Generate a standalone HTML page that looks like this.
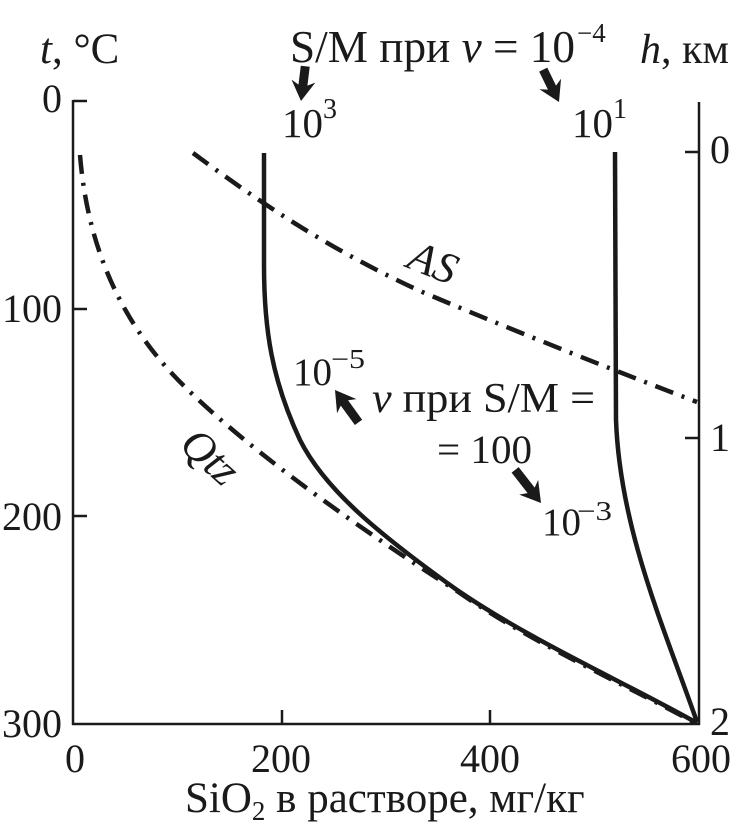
<!DOCTYPE html>
<html>
<head>
<meta charset="utf-8">
<style>
html,body{margin:0;padding:0;background:#fff;}
svg{display:block;}
text{font-family:"Liberation Serif","DejaVu Serif",serif;fill:#1a1a1a;}
</style>
</head>
<body>
<svg width="733" height="835" viewBox="0 0 733 835" xmlns="http://www.w3.org/2000/svg">
<rect width="733" height="835" fill="#fff"/>
<!-- axes -->
<g stroke="#1a1a1a" stroke-width="2.5" fill="none">
<line x1="73" y1="100" x2="73" y2="725"/>
<line x1="72" y1="724" x2="700" y2="724"/>
<line x1="699" y1="102" x2="699" y2="725"/>
<line x1="73" y1="101" x2="87" y2="101"/>
<line x1="73" y1="309" x2="87" y2="309"/>
<line x1="73" y1="516" x2="87" y2="516"/>
<line x1="282" y1="724" x2="282" y2="710"/>
<line x1="490" y1="724" x2="490" y2="710"/>
<line x1="685" y1="152" x2="699" y2="152"/>
<line x1="685" y1="438" x2="699" y2="438"/>
</g>
<!-- solid curves -->
<g stroke="#1a1a1a" stroke-width="4.5" fill="none" stroke-linejoin="round">
<path d="M264,153 L264,265 C264,330 272,380 300,440 C325,490 380,535 457,590 C530,640 620,680 697,723"/>
<path d="M615,152 L616,420 C620,530 665,630 697,722"/>
</g>
<!-- dash-dot curves -->
<g stroke="#1a1a1a" stroke-width="4.5" fill="none" stroke-dasharray="19 9 3 9">
<path d="M80,155 C86,230 110,300 160,360 C210,420 330,510 457,591 C530,642 620,682 697,724"/>
<path d="M193,153 C250,195 320,245 420,291 C500,325 600,365 697,402"/>
</g>
<!-- arrows -->
<g fill="#1a1a1a">
<path transform="translate(301,101) rotate(97)" d="M0,0 L-20,-12 L-16,-4.5 L-35,-4.5 L-35,4.5 L-16,4.5 L-20,12 Z"/>
<path transform="translate(559,102) rotate(64)" d="M0,0 L-20,-12 L-16,-4.5 L-36,-4.5 L-36,4.5 L-16,4.5 L-20,12 Z"/>
<path transform="translate(335,390) rotate(234)" d="M0,0 L-20,-12 L-16,-4.5 L-40,-4.5 L-40,4.5 L-16,4.5 L-20,12 Z"/>
<path transform="translate(541,503) rotate(52)" d="M0,0 L-20,-12 L-16,-4.5 L-42,-4.5 L-42,4.5 L-16,4.5 L-20,12 Z"/>
</g>
<!-- top labels -->
<text x="40" y="63" font-size="43"><tspan font-style="italic">t</tspan>, °C</text>
<text x="640" y="63" font-size="42"><tspan font-style="italic">h</tspan>, км</text>
<text x="290" y="62" font-size="46" textLength="285" lengthAdjust="spacingAndGlyphs">S/M при <tspan font-style="italic">v</tspan> = 10</text>
<text x="577" y="42" font-size="27">−4</text>
<!-- 10^3 and 10^1 -->
<text x="282" y="137" font-size="41">10</text>
<text x="323" y="118" font-size="28">3</text>
<text x="572" y="137" font-size="41">10</text>
<text x="613" y="118" font-size="28">1</text>
<!-- middle labels -->
<text x="293" y="385" font-size="39">10</text>
<text x="331" y="368" font-size="27" textLength="34" lengthAdjust="spacingAndGlyphs">−5</text>
<text x="372" y="412" font-size="42" textLength="223" lengthAdjust="spacingAndGlyphs"><tspan font-style="italic">v</tspan> при S/M =</text>
<text x="437" y="463" font-size="40" textLength="95" lengthAdjust="spacingAndGlyphs">= 100</text>
<text x="542" y="535" font-size="39">10</text>
<text x="577" y="520" font-size="27" textLength="35" lengthAdjust="spacingAndGlyphs">−3</text>
<!-- curve labels -->
<text transform="translate(433,263) rotate(22)" text-anchor="middle" y="14" font-size="44" font-style="italic">AS</text>
<text transform="translate(210,457) rotate(42)" text-anchor="middle" y="14" font-size="44" font-style="italic">Qtz</text>
<!-- left tick labels -->
<g font-size="40" text-anchor="end">
<text x="62" y="112">0</text>
<text x="62" y="322">100</text>
<text x="62" y="530">200</text>
<text x="62" y="737">300</text>
</g>
<!-- right tick labels -->
<g font-size="40">
<text x="710" y="163">0</text>
<text x="710" y="451">1</text>
<text x="710" y="735">2</text>
</g>
<!-- bottom tick labels -->
<g font-size="40" text-anchor="middle">
<text x="75" y="772">0</text>
<text x="281" y="772">200</text>
<text x="490" y="772">400</text>
<text x="701" y="772">600</text>
</g>
<!-- x axis title -->
<text x="185" y="812" font-size="43">SiO<tspan font-size="27" dy="8">2</tspan><tspan dy="-8"> в растворе, мг/кг</tspan></text>
</svg>
</body>
</html>
